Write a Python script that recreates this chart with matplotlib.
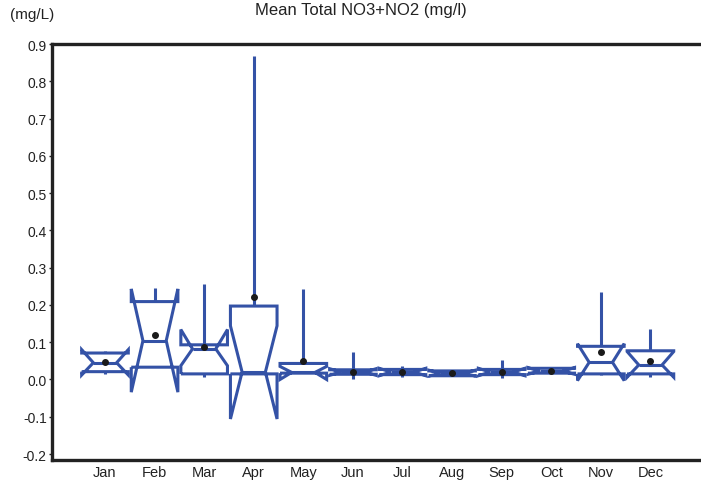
import matplotlib
matplotlib.use("Agg")
import matplotlib.pyplot as plt

plt.rcParams['font.family'] = ['Liberation Sans', 'DejaVu Sans']

months = ["Jan", "Feb", "Mar", "Apr", "May", "Jun", "Jul", "Aug", "Sep", "Oct", "Nov", "Dec"]
whislo = [0.016, 0.033, 0.006, 0.015, 0.017, 0.000, 0.006, 0.010, 0.003, 0.017, 0.012, 0.006]
q1     = [0.021, 0.033, 0.015, 0.015, 0.017, 0.014, 0.013, 0.010, 0.013, 0.017, 0.015, 0.015]
cilo   = [0.012, -0.034, 0.037, -0.106, 0.000, 0.011, 0.010, 0.009, 0.010, 0.014, -0.003, 0.006]
med    = [0.045, 0.104, 0.082, 0.020, 0.019, 0.020, 0.020, 0.017, 0.020, 0.022, 0.046, 0.039]
cihi   = [0.080, 0.243, 0.134, 0.144, 0.035, 0.029, 0.030, 0.025, 0.030, 0.032, 0.096, 0.075]
q3     = [0.071, 0.209, 0.093, 0.197, 0.043, 0.026, 0.027, 0.023, 0.027, 0.030, 0.089, 0.077]
whishi = [0.076, 0.245, 0.256, 0.868, 0.243, 0.075, 0.037, 0.024, 0.052, 0.030, 0.234, 0.135]
means  = [0.047, 0.120, 0.086, 0.220, 0.050, 0.021, 0.021, 0.017, 0.021, 0.022, 0.075, 0.050]

blue = "#3452a6"

stats = []
for i in range(len(months)):
    stats.append(dict(label=months[i], whislo=whislo[i], q1=q1[i], cilo=cilo[i], med=med[i],
                      cihi=cihi[i], q3=q3[i], whishi=whishi[i], mean=means[i], fliers=[]))

fig = plt.figure(figsize=(7.01, 4.81), dpi=100)
ax = fig.add_axes([52.3 / 701, 1 - 460.5 / 481, 1 - 52.3 / 701, (460.5 - 44.5) / 481])

line = dict(color=blue, linewidth=2.2, solid_capstyle='butt', solid_joinstyle='miter')
ax.bxp(stats, positions=range(1, 13), widths=0.94, shownotches=True, showmeans=True,
       showcaps=False, showfliers=False,
       boxprops=line, whiskerprops=line, medianprops=line,
       meanprops=dict(marker='o', markerfacecolor='#1a1a1a', markeredgecolor='#1a1a1a', markersize=4))

ax.set_xlim(-0.0625, 13.02)
ax.set_ylim(-0.2147, 0.9015)
ax.set_yticks([-0.2, -0.1, 0.0, 0.1, 0.2, 0.3, 0.4, 0.5, 0.6, 0.7, 0.8, 0.9])
ax.set_yticklabels(["-0.2", "-0.1", "0.0", "0.1", "0.2", "0.3", "0.4", "0.5", "0.6", "0.7", "0.8", "0.9"])
ax.set_xticks(range(1, 13))
ax.set_xticklabels(months)
ax.tick_params(axis='y', length=2.5, width=1, color='#222222', pad=1.5, labelsize=10, labelcolor='#222222')
ax.tick_params(axis='x', length=0, pad=4, labelsize=10.5, labelcolor='#222222')

for s in ['left', 'top', 'bottom']:
    ax.spines[s].set_linewidth(2.4)
    ax.spines[s].set_color('#222222')
ax.spines['right'].set_visible(False)

fig.text(361 / 701, 1 - 10 / 481, "Mean Total NO3+NO2 (mg/l)", ha='center', va='center',
         fontsize=12, color='#222222')
fig.text(10 / 701, 1 - 15 / 481, "(mg/L)", ha='left', va='center', fontsize=11, color='#222222')

fig.savefig("out.png", dpi=100)
